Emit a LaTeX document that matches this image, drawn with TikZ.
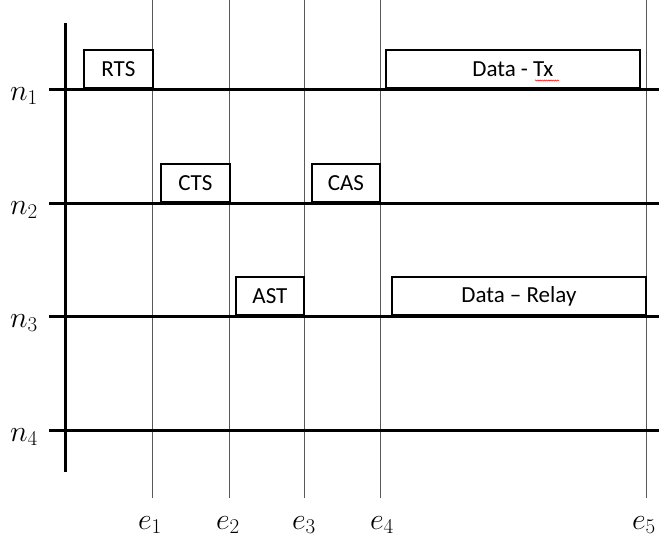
\documentclass[tikz,border=0pt]{standalone}
\usepackage{fix-cm}
\usepackage{fontspec}
\setmainfont{Carlito}
\usetikzlibrary{decorations.pathmorphing}

\begin{document}
\begin{tikzpicture}[x=1pt,y=-1pt,
  lane/.style={line width=3pt},
  axisline/.style={line width=3pt},
  eventline/.style={line width=1pt, draw=black!65},
  pkt/.style={draw, line width=1.8pt, anchor=south west, inner sep=0pt,
    minimum height=38pt, font=\fontsize{23}{26}\selectfont},
  nlabel/.style={font=\fontsize{30}{34}\selectfont, inner sep=0pt},
  elabel/.style={font=\fontsize{30}{34}\selectfont, inner sep=0pt}]
  \useasboundingbox (0,0) rectangle (659,541);

  % event instants
  \foreach \i/\x in {1/152,2/229,3/304,4/380,5/646}{
    \coordinate (et\i) at (\x,0);
    \coordinate (eb\i) at (\x,498);
    \draw[eventline] (et\i) -- (eb\i);
  }
  \node[elabel] (e1) at (150,525) {$e_1$};
  \node[elabel] (e2) at (228,525) {$e_2$};
  \node[elabel] (e3) at (304,525) {$e_3$};
  \node[elabel] (e4) at (382,525) {$e_4$};
  \node[elabel] (e5) at (644,525) {$e_5$};

  % packets
  \node[pkt, minimum width=69pt] (rts) at (83,89) {RTS};
  \node[pkt, minimum width=254pt] (datatx) at (385,89) {Data - Tx};
  \node[pkt, minimum width=69pt] (cts) at (160,203) {CTS};
  \node[pkt, minimum width=68pt] (cas) at (311,203) {CAS};
  \node[pkt, minimum width=68pt] (ast) at (235,316) {AST};
  \node[pkt, minimum width=254pt] (datarelay) at (391,316) {Data -- Relay};

  % spell-check mark under "Tx"
  \draw[red, line width=0.5pt, decorate,
    decoration={snake, segment length=2.2pt, amplitude=0.6pt}]
    (535,80.5) -- (559,80.5);

  % time axis
  \coordinate (atop) at (65,23);
  \coordinate (abot) at (65,472);
  \draw[axisline] (atop) -- (abot);

  % node lanes
  \foreach \i/\y in {1/89,2/203,3/316,4/430}{
    \coordinate (ls\i) at (49,\y);
    \coordinate (le\i) at (659,\y);
    \draw[lane] (ls\i) -- (le\i);
  }
  \node[nlabel] (n1) at (24,96) {$n_1$};
  \node[nlabel] (n2) at (24,210) {$n_2$};
  \node[nlabel] (n3) at (24,323) {$n_3$};
  \node[nlabel] (n4) at (24,437) {$n_4$};
\end{tikzpicture}
\end{document}
